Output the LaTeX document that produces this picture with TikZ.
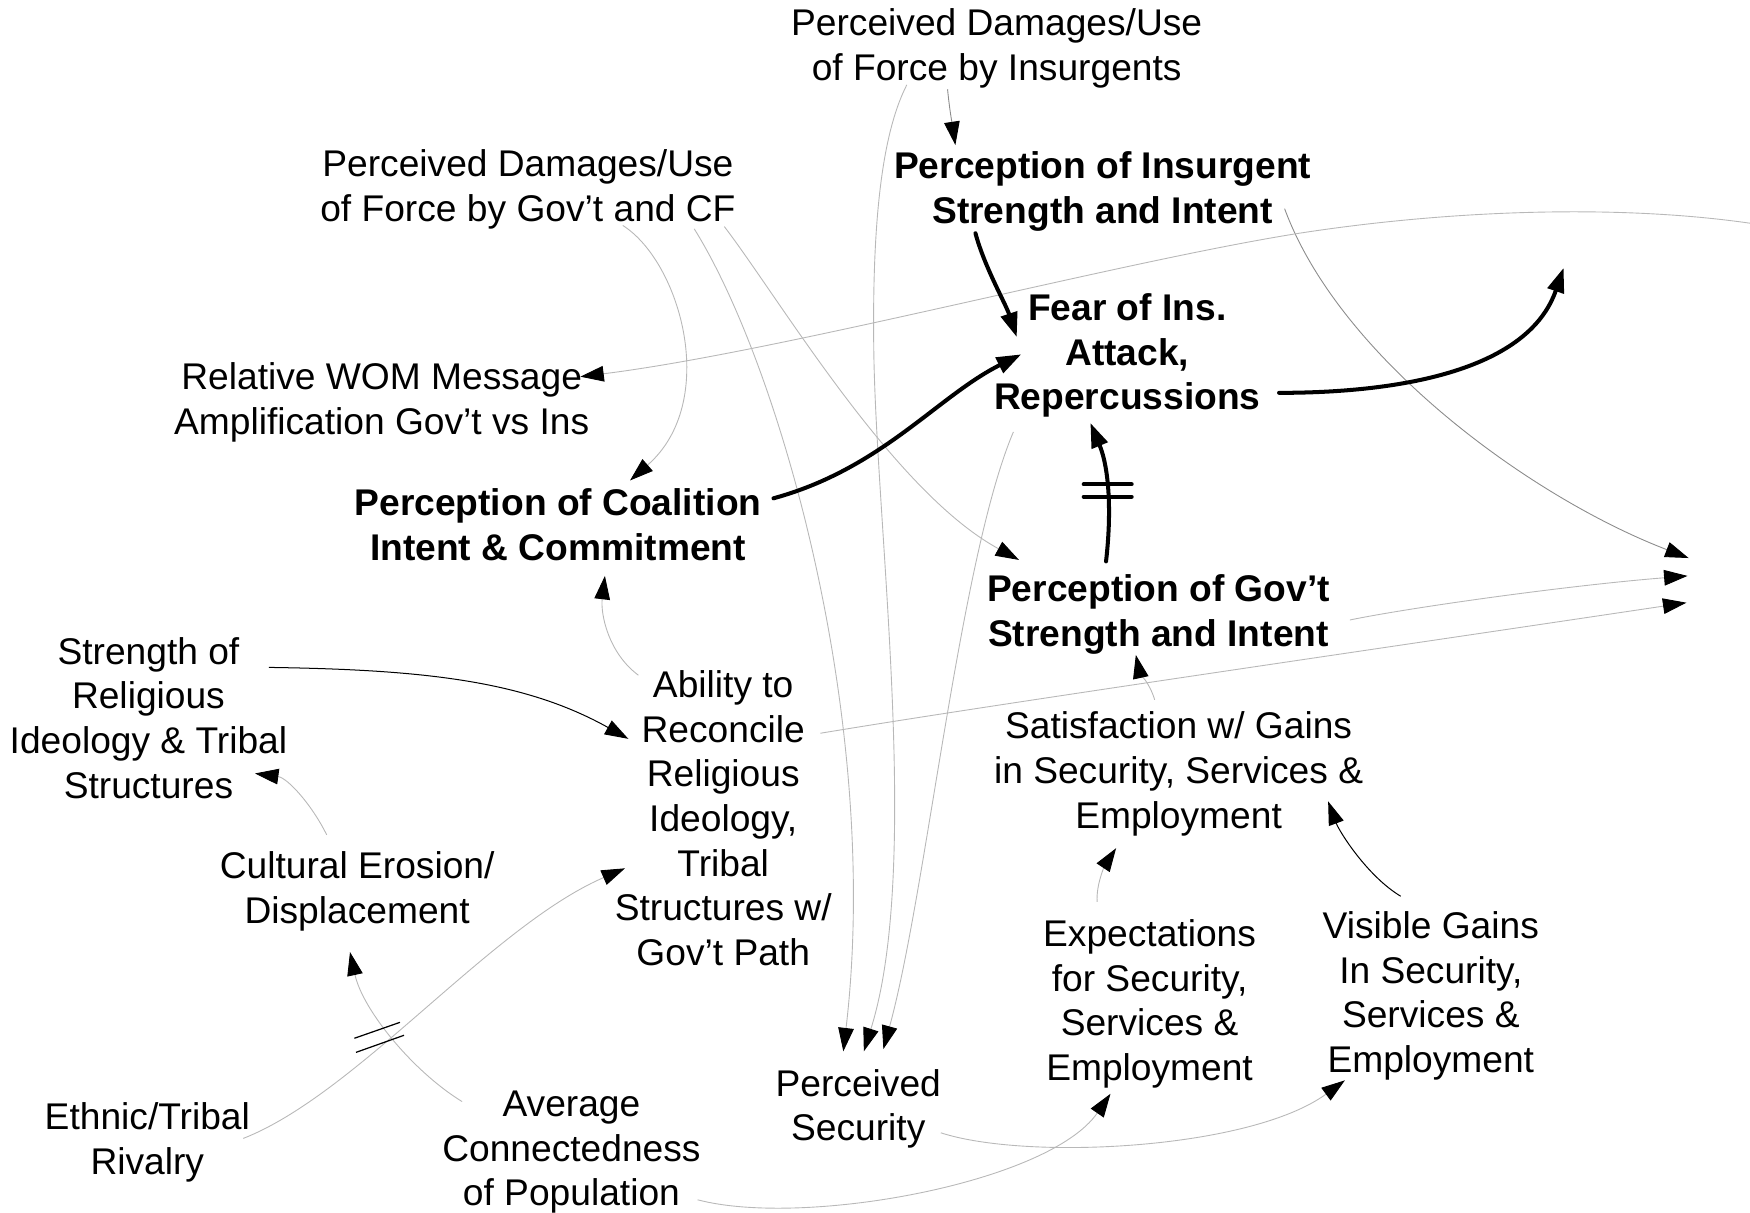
\documentclass[tikz,border=0pt]{standalone}
\usepackage{fontspec}
\setmainfont{Liberation Sans}
\usetikzlibrary{arrows.meta}
\definecolor{lightline}{gray}{0.72}
\definecolor{midline}{gray}{0.55}
\begin{document}
\begin{tikzpicture}[x=1pt,y=-1pt,
  txt/.style={align=center,inner sep=0pt,text depth=0pt,font=\fontsize{33.3pt}{40pt}\selectfont},
  btxt/.style={txt,font=\fontsize{33.3pt}{40pt}\selectfont\bfseries},
  thin/.style={draw=lightline,line width=0.8pt,-{Triangle[length=21pt,width=14pt,color=black]}},
  midthin/.style={thin,draw=midline},
  darkthin/.style={thin,draw=black,line width=0.9pt},
  thick/.style={draw=black,line width=3.6pt,line cap=round,-{Triangle[length=22pt,width=15pt,color=black]}},
  delaythin/.style={draw=black,line width=1.1pt},
  delaythick/.style={draw=black,line width=3.6pt,line cap=round}]
\useasboundingbox (0,0) rectangle (1568,1086);

% nodes
\node[txt] (pdi) at (893,40) {Perceived Damages/Use\\of Force by Insurgents};
\node[txt] (pdg) at (473,166) {Perceived Damages/Use\\of Force by Gov’t and CF};
\node[btxt] (pis) at (988,168) {Perception of Insurgent\\Strength and Intent};
\node[btxt] (fear) at (1010,315) {Fear of Ins.\\Attack,\\Repercussions};
\node[txt] (wom) at (342,357) {Relative WOM Message\\Amplification Gov’t vs Ins};
\node[btxt] (pci) at (500,470) {Perception of Coalition\\Intent \& Commitment};
\node[btxt] (pgs) at (1038,547) {Perception of Gov’t\\Strength and Intent};
\node[txt] (sri) at (133,643) {Strength of\\Religious\\Ideology \& Tribal\\Structures};
\node[txt] (arr) at (648,733) {Ability to\\Reconcile\\Religious\\Ideology,\\Tribal\\Structures w/\\Gov’t Path};
\node[txt] (sat) at (1056,690) {Satisfaction w/ Gains\\in Security, Services \&\\Employment};
\node[txt] (ce) at (320,795) {Cultural Erosion/\\Displacement};
\node[txt] (exp) at (1030,896) {Expectations\\for Security,\\Services \&\\Employment};
\node[txt] (vis) at (1282,889) {Visible Gains\\In Security,\\Services \&\\Employment};
\node[txt] (ps) at (769,990) {Perceived\\Security};
\node[txt] (etr) at (132,1020) {Ethnic/Tribal\\Rivalry};
\node[txt] (acp) at (512,1029) {Average\\Connectedness\\of Population};

% free ends
\coordinate (fout) at (1401,240);
\coordinate (r1) at (1513,500);
\coordinate (r2) at (1512,516);
\coordinate (r3) at (1511,540);
\coordinate (wsrc) at (1568,200);

% thin connectors
\draw[midthin] ([shift={(-44,40)}]pdi.center) .. controls (851,100) and (853,110) .. ([shift={(-132,-38)}]pis.center);
\draw[thin] ([shift={(-80.5,36)}]pdi.center) .. controls (790,120) and (781,200) .. (783,320)
   .. controls (786,480) and (825,780) .. ([shift={(5,-48)}]ps.center);
\draw[thin] ([shift={(85,36)}]pdg.center) .. controls (610,235) and (645,360) .. ([shift={(64.5,-39.5)}]pci.center);
\draw[thin] ([shift={(149,39)}]pdg.center) .. controls (700,330) and (790,650) .. ([shift={(-13.4,-48)}]ps.center);
\draw[thin] ([shift={(176,37)}]pdg.center) .. controls (700,270) and (800,440) .. ([shift={(-125,-45.3)}]pgs.center);
\draw[thin] ([shift={(-102,72)}]fear.center) .. controls (860,500) and (830,800) .. ([shift={(22.5,-50)}]ps.center);
\draw[midthin] ([shift={(163,19)}]pis.center) .. controls (1200,320) and (1370,445) .. (r1);
\draw[thin] (wsrc) .. controls (1450,183) and (1300,188) .. (1164,209)
   .. controls (1000,235) and (700,315) .. ([shift={(178,-19.5)}]wom.center);
\draw[thin] ([shift={(171.5,8.5)}]pgs.center) .. controls (1260,545) and (1400,525) .. (r2);
\draw[thin] ([shift={(87,-76)}]arr.center) .. controls (885,632) and (1210,585) .. (r3);
\draw[thin] ([shift={(-21.4,-63)}]sat.center) .. controls (1030,612) and (1021,602) .. ([shift={(-20.3,39.8)}]pgs.center);
\draw[darkthin] ([shift={(108,-45)}]sri.center) .. controls (380,600) and (470,610) .. ([shift={(-85,-71)}]arr.center);
\draw[thin] ([shift={(-27.3,-47)}]ce.center) .. controls (280,722) and (258,697) .. ([shift={(95.5,50)}]sri.center);
\draw[thin] ([shift={(-76,-128)}]arr.center) .. controls (545,585) and (538,550) .. ([shift={(42,46)}]pci.center);
\draw[thin] ([shift={(86,0)}]etr.center) .. controls (320,980) and (440,830) .. ([shift={(-88,45)}]arr.center);
\draw[thin] ([shift={(-98,-42)}]acp.center) .. controls (370,960) and (325,905) .. ([shift={(-6.4,58)}]ce.center);
\draw[thin] ([shift={(113,46)}]acp.center) .. controls (720,1100) and (940,1060) .. ([shift={(-35,84)}]exp.center);
\draw[thin] ([shift={(74,25)}]ps.center) .. controls (920,1040) and (1120,1030) .. ([shift={(-77,79)}]vis.center);
\draw[thin] ([shift={(-47,-88)}]exp.center) .. controls (982,790) and (992,772) .. ([shift={(-56,70)}]sat.center);
\draw[darkthin] ([shift={(-27,-86)}]vis.center) .. controls (1225,785) and (1200,745) .. ([shift={(134,28)}]sat.center);

% delay marks (thin)
\draw[delaythin] (317.5,930.3) -- (358.4,916);
\draw[delaythin] (319,942.9) -- (362,927.6);

% thick connectors
\draw[thick] ([shift={(-114,41)}]pis.center) .. controls (882,239) and (901,272) .. ([shift={(-99,-13)}]fear.center);
\draw[thick] ([shift={(193,-23.5)}]pci.center) .. controls (790,420) and (840,355) .. ([shift={(-95,2.5)}]fear.center);
\draw[thick] ([shift={(136,37)}]fear.center) .. controls (1260,352) and (1370,330) .. (fout);
\draw[thick] ([shift={(-47,-44)}]pgs.center) .. controls (996,460) and (994,420) .. ([shift={(-33,64)}]fear.center);
\draw[delaythick] (971,434) -- (1014,434);
\draw[delaythick] (971,445) -- (1014,445);
\end{tikzpicture}
\end{document}
